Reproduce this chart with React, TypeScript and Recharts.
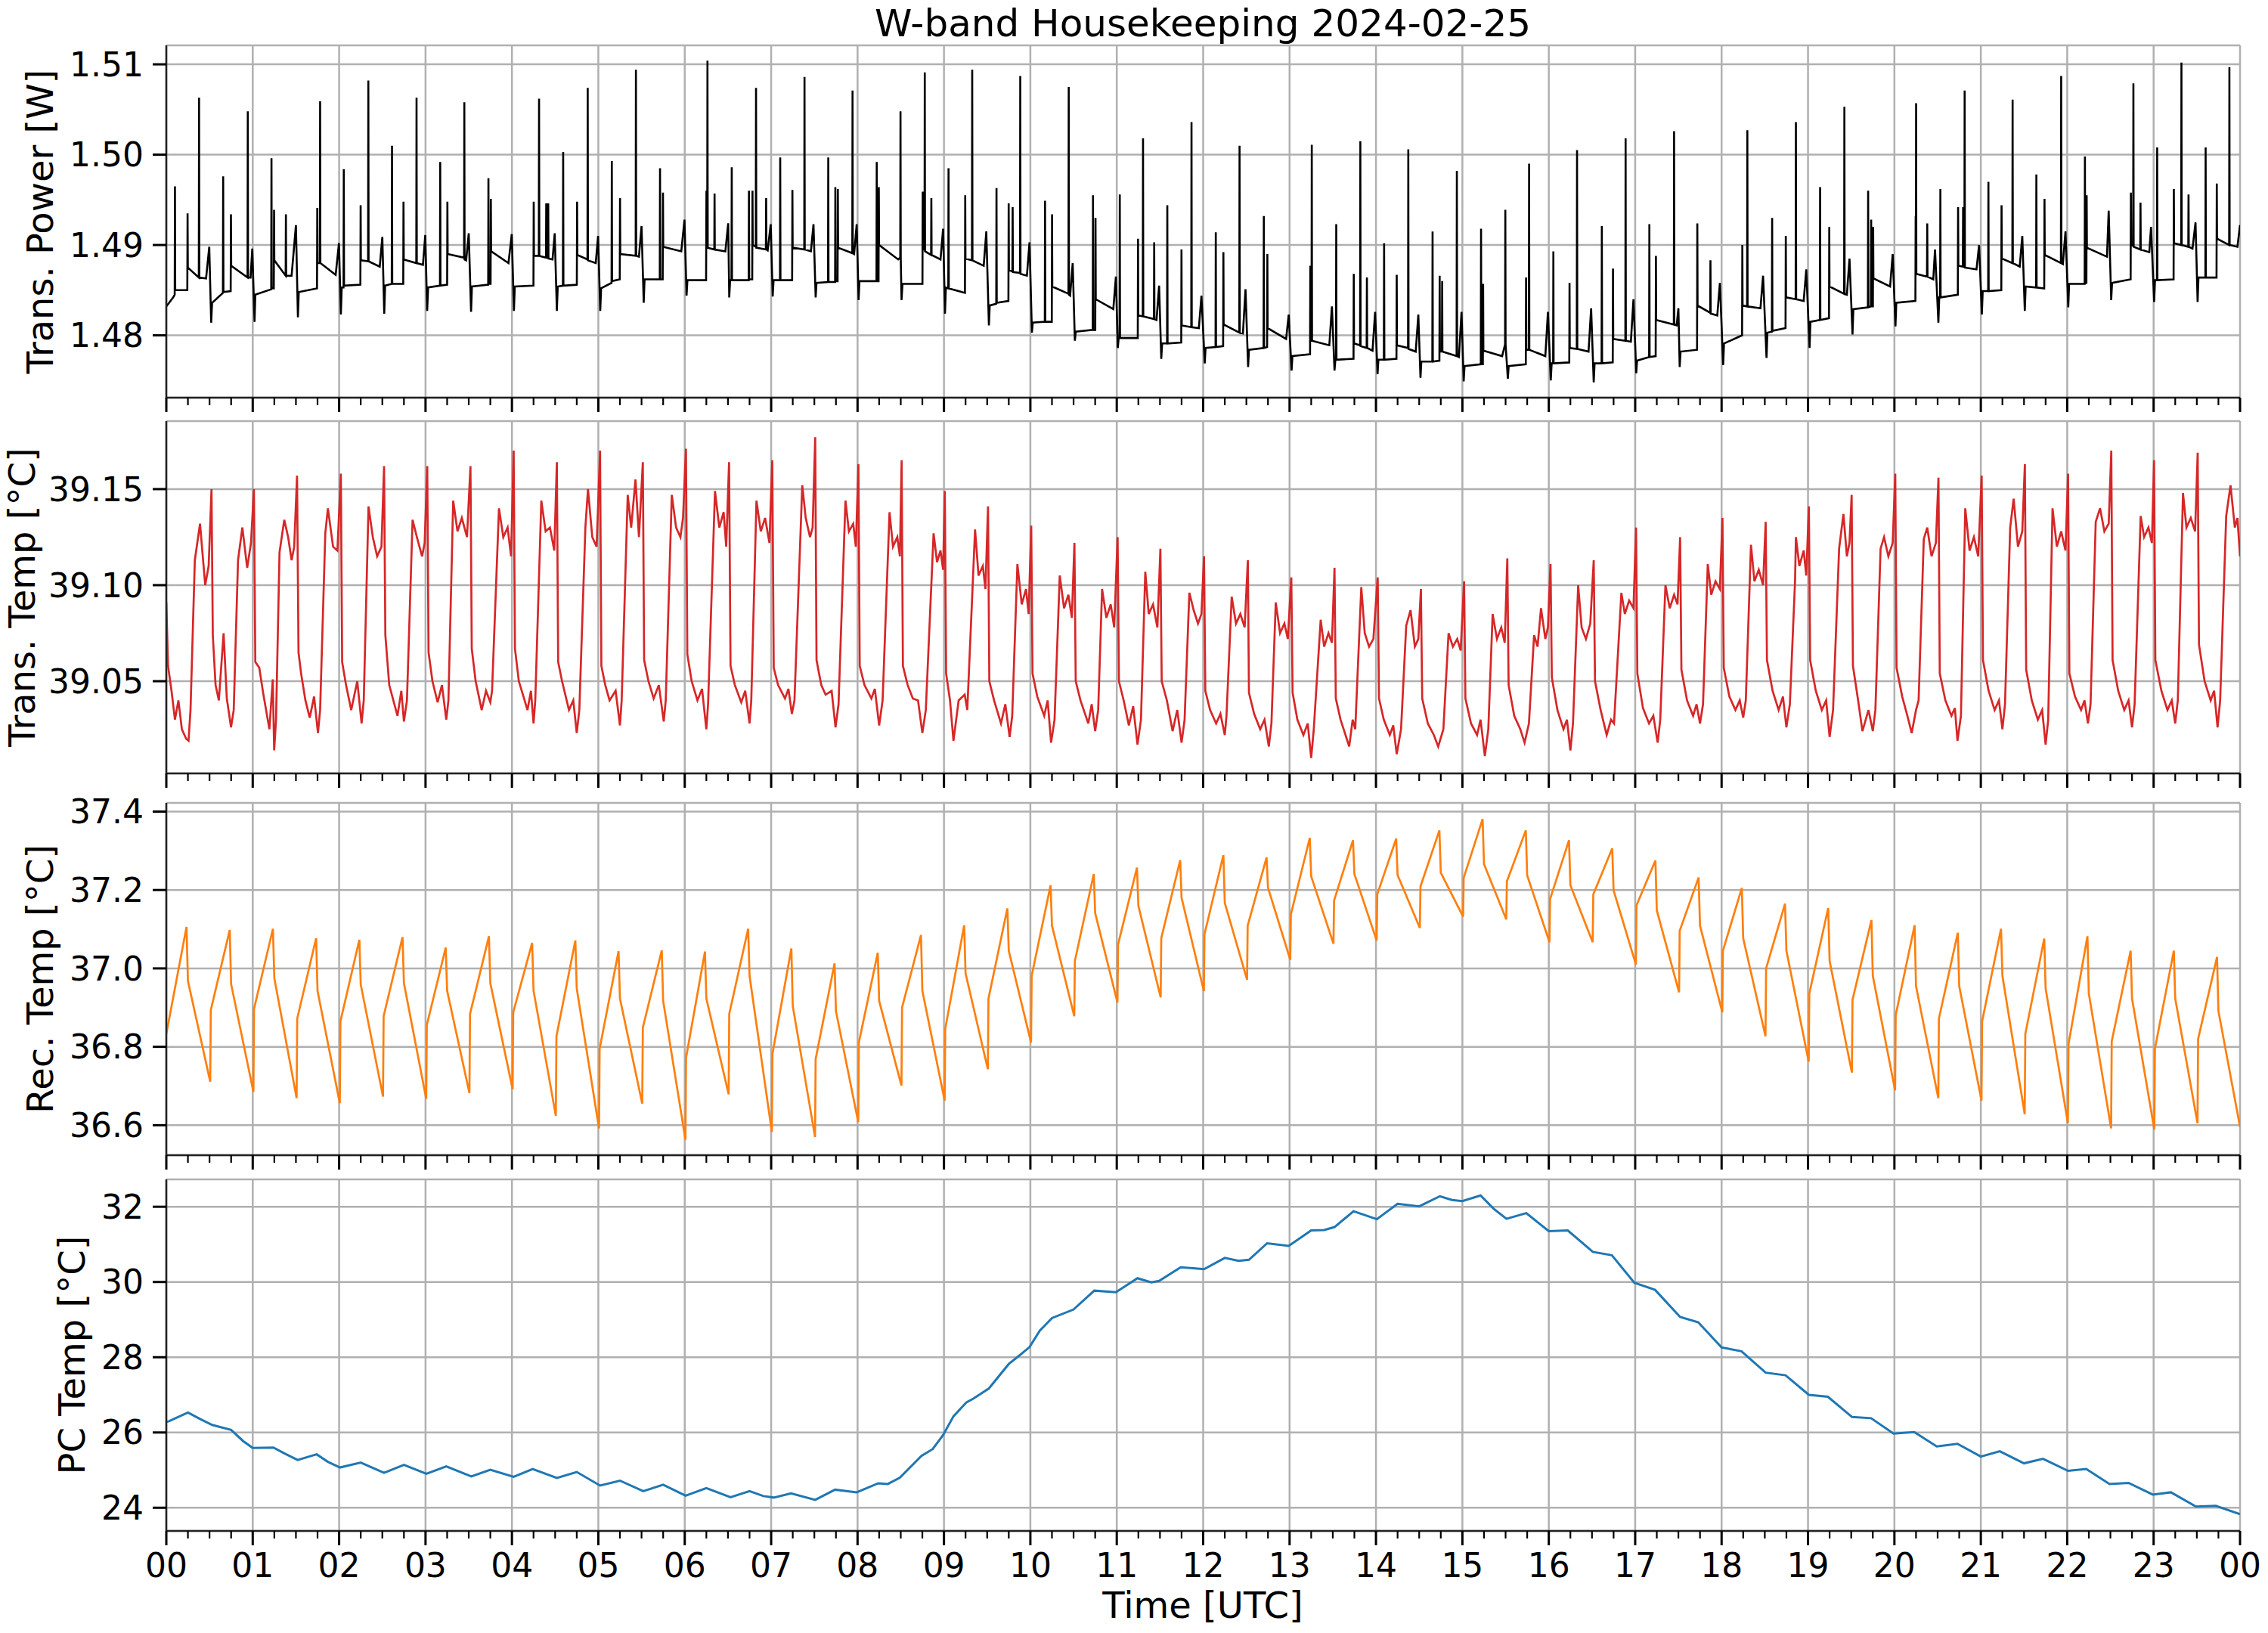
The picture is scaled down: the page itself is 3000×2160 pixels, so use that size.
import React from "react";
import {
  LineChart,
  Line,
  XAxis,
  YAxis,
  CartesianGrid,
} from "recharts";

// ---- data (time in hours UTC, value) ----

const chartTitle = "W-band Housekeeping 2024-02-25";

const hourLabels = [
  "00", "01", "02", "03", "04", "05", "06", "07", "08", "09", "10", "11",
  "12", "13", "14", "15", "16", "17", "18", "19", "20", "21", "22", "23", "00",
];

const powerTicks = [1.48, 1.49, 1.5, 1.51];
const transTempTicks = [39.05, 39.1, 39.15];
const recTempTicks = [36.6, 36.8, 37.0, 37.2, 37.4];
const pcTempTicks = [24, 26, 28, 30, 32];

const transPower: [number, number][] = [
  [0.0, 1.4832], [0.08, 1.4842], [0.097, 1.4845], [0.1, 1.4965], [0.103, 1.485],
  [0.243, 1.485], [0.246, 1.4935], [0.249, 1.4875],
  [0.376, 1.4864], [0.379, 1.5063], [0.382, 1.4864],
  [0.46, 1.4863], [0.497, 1.4898], [0.519, 1.4814], [0.53, 1.4836],
  [0.655, 1.4847], [0.658, 1.4976], [0.661, 1.4848],
  [0.745, 1.4849], [0.748, 1.4934], [0.751, 1.4877],
  [0.94, 1.4864], [0.943, 1.5048], [0.946, 1.4864],
  [0.975, 1.4864], [0.995, 1.4896], [1.021, 1.4815], [1.03, 1.4845],
  [1.214, 1.4851], [1.217, 1.4996], [1.22, 1.4852],
  [1.244, 1.4852], [1.247, 1.4939], [1.25, 1.4883],
  [1.381, 1.4866], [1.384, 1.4934], [1.387, 1.4866],
  [1.45, 1.4866], [1.5, 1.4922], [1.523, 1.482], [1.533, 1.4848],
  [1.744, 1.4852], [1.747, 1.4941], [1.75, 1.488],
  [1.777, 1.488], [1.78, 1.5059], [1.783, 1.488],
  [1.96, 1.4867], [1.998, 1.4902], [2.02, 1.4823], [2.03, 1.4853],
  [2.051, 1.4853], [2.054, 1.4984], [2.057, 1.4855],
  [2.246, 1.4856], [2.249, 1.4944], [2.252, 1.4883],
  [2.335, 1.4882], [2.338, 1.5082], [2.341, 1.4882],
  [2.47, 1.4876], [2.5, 1.4909], [2.522, 1.4824], [2.532, 1.4855],
  [2.609, 1.4857], [2.612, 1.501], [2.615, 1.4857],
  [2.742, 1.4857], [2.745, 1.4948], [2.748, 1.4884],
  [2.893, 1.488], [2.896, 1.5063], [2.899, 1.488],
  [2.97, 1.4878], [2.997, 1.4911], [3.019, 1.4827], [3.03, 1.4853],
  [3.167, 1.4855], [3.17, 1.4992], [3.173, 1.4855],
  [3.25, 1.4856], [3.253, 1.4948], [3.256, 1.489],
  [3.446, 1.4886], [3.449, 1.5058], [3.452, 1.4884],
  [3.47, 1.4883], [3.5, 1.4913], [3.527, 1.4826], [3.537, 1.4854],
  [3.725, 1.4856], [3.728, 1.4974], [3.731, 1.4857],
  [3.753, 1.4857], [3.756, 1.4951], [3.759, 1.4893],
  [3.96, 1.488], [3.998, 1.4912], [4.023, 1.4827], [4.033, 1.4854],
  [4.249, 1.4855], [4.252, 1.4948], [4.255, 1.4888],
  [4.311, 1.4888], [4.314, 1.5062], [4.317, 1.4888],
  [4.394, 1.4886], [4.397, 1.4946], [4.4, 1.4886],
  [4.417, 1.4886], [4.42, 1.4946], [4.423, 1.4885],
  [4.47, 1.4884], [4.495, 1.4913], [4.52, 1.4827], [4.53, 1.4854],
  [4.59, 1.4855], [4.593, 1.5003], [4.596, 1.4855],
  [4.751, 1.4856], [4.754, 1.4948], [4.757, 1.4889],
  [4.874, 1.4884], [4.877, 1.5074], [4.88, 1.4883],
  [4.97, 1.488], [4.997, 1.491], [5.022, 1.4827], [5.032, 1.4852],
  [5.153, 1.4858], [5.156, 1.4993], [5.159, 1.486],
  [5.248, 1.4862], [5.251, 1.4952], [5.254, 1.489],
  [5.432, 1.4888], [5.435, 1.5094], [5.438, 1.4888],
  [5.47, 1.4887], [5.5, 1.4921], [5.525, 1.4836], [5.535, 1.4862],
  [5.711, 1.4862], [5.714, 1.4985], [5.717, 1.4862],
  [5.745, 1.4862], [5.748, 1.4958], [5.751, 1.4898],
  [5.96, 1.4893], [5.997, 1.4928], [6.021, 1.4844], [6.031, 1.4861],
  [6.247, 1.4861], [6.251, 1.496], [6.254, 1.4897], [6.26, 1.4897], [6.263, 1.5104], [6.266, 1.4897],
  [6.342, 1.4895], [6.345, 1.4957], [6.348, 1.4895],
  [6.47, 1.4893], [6.503, 1.4924], [6.515, 1.4842], [6.525, 1.4861],
  [6.541, 1.4861], [6.544, 1.4986], [6.547, 1.4861],
  [6.74, 1.4861], [6.743, 1.496], [6.746, 1.4862], [6.781, 1.4862], [6.784, 1.496], [6.787, 1.49],
  [6.822, 1.4898], [6.825, 1.5074], [6.828, 1.4897],
  [6.939, 1.4895], [6.942, 1.4952], [6.945, 1.4895],
  [6.96, 1.4894], [6.995, 1.4923], [7.018, 1.4843], [7.028, 1.4861],
  [7.102, 1.4861], [7.105, 1.4997], [7.108, 1.4861],
  [7.243, 1.4861], [7.246, 1.4961], [7.249, 1.4897],
  [7.383, 1.4895], [7.386, 1.5086], [7.389, 1.4895],
  [7.46, 1.4893], [7.49, 1.4923], [7.515, 1.4842], [7.525, 1.4858],
  [7.658, 1.4859], [7.661, 1.4997], [7.664, 1.4859],
  [7.74, 1.4859], [7.743, 1.4964], [7.746, 1.486], [7.769, 1.486], [7.772, 1.4962], [7.775, 1.4897],
  [7.939, 1.4891], [7.942, 1.5071], [7.945, 1.4891],
  [7.96, 1.489], [7.99, 1.4923], [8.012, 1.4839], [8.022, 1.486],
  [8.219, 1.486], [8.222, 1.4992], [8.225, 1.486], [8.243, 1.486], [8.246, 1.4964], [8.249, 1.49],
  [8.47, 1.4884], [8.494, 1.4886], [8.497, 1.5048], [8.5, 1.4885], [8.509, 1.4839], [8.52, 1.4857],
  [8.751, 1.4857], [8.754, 1.4959], [8.757, 1.4895], [8.775, 1.4895], [8.778, 1.5091], [8.781, 1.4893],
  [8.851, 1.4889], [8.854, 1.4952], [8.857, 1.4889],
  [8.96, 1.4884], [8.99, 1.4918], [9.012, 1.4824], [9.022, 1.4853],
  [9.05, 1.4852], [9.053, 1.4985], [9.056, 1.4852],
  [9.243, 1.4847], [9.246, 1.4955], [9.249, 1.4885],
  [9.324, 1.4883], [9.327, 1.5094], [9.33, 1.4883],
  [9.46, 1.4877], [9.49, 1.4915], [9.52, 1.4811], [9.53, 1.4833],
  [9.605, 1.4835], [9.608, 1.4963], [9.611, 1.4836],
  [9.746, 1.4838], [9.749, 1.4946], [9.752, 1.4872], [9.792, 1.4871], [9.795, 1.4942], [9.798, 1.487],
  [9.88, 1.4869], [9.883, 1.5087], [9.886, 1.4868],
  [9.96, 1.4866], [9.99, 1.4903], [10.018, 1.4803], [10.028, 1.4814],
  [10.167, 1.4815], [10.17, 1.4949], [10.173, 1.4815],
  [10.248, 1.4815], [10.251, 1.4934], [10.254, 1.4854],
  [10.441, 1.4846], [10.444, 1.5075], [10.447, 1.4845],
  [10.46, 1.4844], [10.49, 1.488], [10.515, 1.4794], [10.525, 1.4804],
  [10.722, 1.4806], [10.725, 1.4955], [10.728, 1.4806], [10.751, 1.4806], [10.754, 1.493], [10.757, 1.484],
  [10.96, 1.4829], [10.99, 1.4865], [11.012, 1.4786], [11.022, 1.4797],
  [11.032, 1.4797], [11.035, 1.4956], [11.038, 1.4797],
  [11.243, 1.4797], [11.246, 1.4907], [11.249, 1.4822],
  [11.301, 1.4821], [11.304, 1.5018], [11.307, 1.4821],
  [11.43, 1.4818], [11.433, 1.4903], [11.436, 1.4818],
  [11.46, 1.4817], [11.49, 1.4855], [11.515, 1.4774], [11.525, 1.4791],
  [11.582, 1.4791], [11.585, 1.4944], [11.588, 1.4791],
  [11.746, 1.4792], [11.749, 1.4895], [11.752, 1.4811],
  [11.862, 1.4809], [11.865, 1.5036], [11.868, 1.4809],
  [11.95, 1.4808], [11.98, 1.4844], [12.018, 1.4769], [12.028, 1.4786],
  [12.143, 1.4787], [12.146, 1.4914], [12.149, 1.4787],
  [12.231, 1.4788], [12.234, 1.4892], [12.237, 1.4812],
  [12.418, 1.4803], [12.421, 1.501], [12.424, 1.4803],
  [12.46, 1.4802], [12.49, 1.4851], [12.52, 1.4765], [12.53, 1.4784],
  [12.699, 1.4786], [12.702, 1.4932], [12.705, 1.4786], [12.74, 1.4787], [12.743, 1.489], [12.746, 1.4808],
  [12.96, 1.4796], [12.99, 1.4823], [13.023, 1.4761], [13.033, 1.4777],
  [13.237, 1.4779], [13.24, 1.4877], [13.243, 1.4794], [13.254, 1.4794], [13.257, 1.5011], [13.26, 1.4794],
  [13.46, 1.4789], [13.49, 1.4832], [13.52, 1.4761], [13.53, 1.4773],
  [13.537, 1.4773], [13.54, 1.4923], [13.543, 1.4773],
  [13.74, 1.4774], [13.743, 1.4868], [13.746, 1.4791],
  [13.816, 1.4789], [13.819, 1.5015], [13.822, 1.4788],
  [13.892, 1.4786], [13.895, 1.4864], [13.898, 1.4786],
  [13.96, 1.4783], [13.99, 1.4826], [14.018, 1.4757], [14.028, 1.4773],
  [14.091, 1.4773], [14.094, 1.4902], [14.097, 1.4773],
  [14.237, 1.4774], [14.24, 1.4867], [14.243, 1.4789],
  [14.371, 1.4786], [14.374, 1.5006], [14.377, 1.4785],
  [14.46, 1.4782], [14.49, 1.4823], [14.515, 1.4753], [14.525, 1.4771],
  [14.652, 1.4771], [14.655, 1.4915], [14.658, 1.4771],
  [14.734, 1.4772], [14.737, 1.4866], [14.74, 1.4782], [14.763, 1.4782], [14.766, 1.486], [14.769, 1.4782],
  [14.933, 1.4777], [14.936, 1.4982], [14.939, 1.4777],
  [14.96, 1.4776], [14.99, 1.4826], [15.015, 1.4749], [15.025, 1.4766],
  [15.213, 1.4768], [15.216, 1.4918], [15.219, 1.4768], [15.237, 1.4768], [15.24, 1.4857], [15.243, 1.4783],
  [15.46, 1.4777], [15.494, 1.479], [15.497, 1.4939], [15.5, 1.479], [15.526, 1.4752], [15.536, 1.4766],
  [15.734, 1.4768], [15.737, 1.4864], [15.74, 1.4784], [15.769, 1.4784], [15.772, 1.499], [15.775, 1.4784],
  [15.96, 1.4777], [15.99, 1.4826], [16.023, 1.475], [16.033, 1.4769],
  [16.05, 1.4769], [16.053, 1.4893], [16.056, 1.4769],
  [16.237, 1.477], [16.24, 1.4858], [16.243, 1.4786],
  [16.324, 1.4785], [16.327, 1.5005], [16.33, 1.4785],
  [16.46, 1.4782], [16.49, 1.483], [16.52, 1.4748], [16.53, 1.4769],
  [16.611, 1.4769], [16.614, 1.4921], [16.617, 1.4769],
  [16.74, 1.477], [16.743, 1.4874], [16.746, 1.4796],
  [16.886, 1.4794], [16.889, 1.5018], [16.892, 1.4794],
  [16.95, 1.4793], [16.98, 1.484], [17.012, 1.4758], [17.022, 1.4772],
  [17.161, 1.4776], [17.164, 1.4923], [17.167, 1.4776],
  [17.237, 1.4777], [17.24, 1.4888], [17.243, 1.4817],
  [17.447, 1.4812], [17.45, 1.5026], [17.453, 1.4812],
  [17.48, 1.4811], [17.5, 1.483], [17.515, 1.4765], [17.525, 1.4782],
  [17.716, 1.4784], [17.719, 1.4924], [17.722, 1.4833],
  [17.868, 1.4825], [17.871, 1.4883], [17.874, 1.4824],
  [17.95, 1.4822], [17.98, 1.4858], [18.018, 1.4767], [18.028, 1.4791],
  [18.237, 1.48], [18.24, 1.49], [18.243, 1.4833], [18.295, 1.4832], [18.298, 1.5027], [18.301, 1.4832],
  [18.45, 1.483], [18.48, 1.4866], [18.52, 1.4775], [18.53, 1.4803],
  [18.582, 1.4804], [18.585, 1.493], [18.588, 1.4805],
  [18.74, 1.4808], [18.743, 1.491], [18.746, 1.4842],
  [18.857, 1.484], [18.86, 1.5036], [18.863, 1.484],
  [18.95, 1.4838], [18.98, 1.4873], [19.018, 1.4786], [19.028, 1.4815],
  [19.137, 1.4817], [19.14, 1.4964], [19.143, 1.4817],
  [19.243, 1.4819], [19.246, 1.492], [19.249, 1.4854],
  [19.418, 1.4846], [19.421, 1.5053], [19.424, 1.4846],
  [19.45, 1.4845], [19.48, 1.4885], [19.515, 1.4801], [19.525, 1.4829],
  [19.693, 1.4831], [19.696, 1.496], [19.699, 1.4831], [19.728, 1.4832], [19.731, 1.4928], [19.734, 1.4832],
  [19.751, 1.4832], [19.754, 1.492], [19.757, 1.4863],
  [19.95, 1.4854], [19.98, 1.489], [20.012, 1.481], [20.022, 1.4836],
  [20.243, 1.4838], [20.246, 1.4932], [20.249, 1.4868], [20.251, 1.5057], [20.254, 1.4868],
  [20.377, 1.4865], [20.38, 1.4924], [20.383, 1.4865],
  [20.45, 1.4862], [20.47, 1.4895], [20.509, 1.4814], [20.519, 1.4842],
  [20.529, 1.4842], [20.532, 1.4962], [20.535, 1.4842],
  [20.734, 1.4845], [20.737, 1.4942], [20.74, 1.4877], [20.792, 1.4876], [20.795, 1.4942], [20.798, 1.4876],
  [20.81, 1.4876], [20.813, 1.5071], [20.816, 1.4875],
  [20.95, 1.4873], [20.98, 1.49], [21.012, 1.4823], [21.022, 1.4849],
  [21.085, 1.4849], [21.088, 1.497], [21.091, 1.4849],
  [21.237, 1.485], [21.24, 1.4944], [21.243, 1.4885],
  [21.365, 1.488], [21.368, 1.5061], [21.371, 1.488],
  [21.45, 1.4876], [21.48, 1.491], [21.509, 1.4827], [21.519, 1.4854],
  [21.64, 1.4853], [21.643, 1.4978], [21.646, 1.4853],
  [21.734, 1.4852], [21.737, 1.4951], [21.74, 1.4889],
  [21.927, 1.488], [21.93, 1.5087], [21.933, 1.488],
  [21.95, 1.4879], [21.98, 1.4915], [22.012, 1.4831], [22.022, 1.4857],
  [22.202, 1.4857], [22.205, 1.4998], [22.208, 1.4858], [22.222, 1.4858], [22.225, 1.4955], [22.228, 1.4897],
  [22.46, 1.4887], [22.48, 1.4938], [22.509, 1.4839], [22.519, 1.4858],
  [22.734, 1.4862], [22.737, 1.4958], [22.74, 1.49], [22.763, 1.4899], [22.766, 1.5079], [22.769, 1.4898],
  [22.845, 1.4895], [22.848, 1.4947], [22.851, 1.4895],
  [22.95, 1.4892], [22.97, 1.492], [23.006, 1.4837], [23.016, 1.4861],
  [23.038, 1.4861], [23.041, 1.5008], [23.044, 1.4861],
  [23.231, 1.4862], [23.234, 1.4962], [23.237, 1.4902],
  [23.319, 1.49], [23.322, 1.5102], [23.325, 1.49],
  [23.401, 1.4898], [23.404, 1.4956], [23.407, 1.4898],
  [23.45, 1.4896], [23.485, 1.4925], [23.509, 1.4837], [23.519, 1.4864],
  [23.599, 1.4864], [23.602, 1.5008], [23.605, 1.4864],
  [23.728, 1.4864], [23.731, 1.4968], [23.734, 1.4907],
  [23.874, 1.49], [23.877, 1.5097], [23.88, 1.49],
  [23.97, 1.4898], [24.0, 1.4922],
];

const transTemp: [number, number][] = [
  [0.0, 39.091], [0.02, 39.058], [0.06, 39.045], [0.1, 39.03], [0.14, 39.04], [0.18, 39.025], [0.23, 39.02], [0.257, 39.019], [0.28, 39.035], [0.33, 39.113], [0.39, 39.132], [0.45, 39.1], [0.49, 39.11], [0.523, 39.15],
  [0.538, 39.074], [0.57, 39.048], [0.608, 39.04], [0.663, 39.075], [0.7, 39.041], [0.749, 39.026], [0.78, 39.035], [0.83, 39.113], [0.88, 39.13], [0.936, 39.109], [0.98, 39.122], [1.014, 39.15],
  [1.03, 39.06], [1.076, 39.057], [1.12, 39.044], [1.193, 39.025], [1.232, 39.051], [1.248, 39.014], [1.27, 39.03], [1.31, 39.117], [1.365, 39.134], [1.41, 39.125], [1.45, 39.113], [1.48, 39.12], [1.513, 39.157],
  [1.53, 39.065], [1.56, 39.054], [1.61, 39.04], [1.66, 39.031], [1.71, 39.042], [1.755, 39.023], [1.78, 39.035], [1.84, 39.127], [1.87, 39.14], [1.93, 39.12], [1.98, 39.118], [2.02, 39.158],
  [2.035, 39.06], [2.08, 39.048], [2.14, 39.035], [2.21, 39.05], [2.26, 39.028], [2.285, 39.04], [2.34, 39.141], [2.39, 39.125], [2.44, 39.115], [2.49, 39.12], [2.52, 39.162],
  [2.535, 39.074], [2.58, 39.048], [2.675, 39.032], [2.72, 39.045], [2.75, 39.029], [2.785, 39.04], [2.85, 39.134], [2.9, 39.125], [2.96, 39.115], [2.99, 39.122], [3.02, 39.162],
  [3.035, 39.065], [3.08, 39.05], [3.14, 39.039], [3.19, 39.048], [3.24, 39.03], [3.265, 39.04], [3.32, 39.144], [3.37, 39.128], [3.42, 39.135], [3.48, 39.125], [3.52, 39.162],
  [3.535, 39.067], [3.58, 39.05], [3.65, 39.035], [3.7, 39.045], [3.75, 39.039], [3.77, 39.045], [3.85, 39.14], [3.9, 39.125], [3.95, 39.13], [3.99, 39.115], [4.02, 39.17],
  [4.035, 39.067], [4.08, 39.05], [4.18, 39.035], [4.22, 39.045], [4.25, 39.028], [4.27, 39.04], [4.34, 39.144], [4.39, 39.128], [4.44, 39.13], [4.49, 39.118], [4.52, 39.164],
  [4.535, 39.06], [4.58, 39.05], [4.66, 39.035], [4.71, 39.04], [4.75, 39.023], [4.78, 39.035], [4.85, 39.13], [4.88, 39.15], [4.93, 39.125], [4.98, 39.12], [5.02, 39.17],
  [5.035, 39.058], [5.08, 39.048], [5.13, 39.04], [5.2, 39.045], [5.25, 39.027], [5.27, 39.04], [5.34, 39.147], [5.38, 39.13], [5.43, 39.155], [5.47, 39.125], [5.515, 39.164],
  [5.53, 39.061], [5.58, 39.05], [5.64, 39.041], [5.7, 39.048], [5.757, 39.029], [5.78, 39.04], [5.85, 39.147], [5.9, 39.13], [5.95, 39.125], [5.98, 39.135], [6.014, 39.171],
  [6.03, 39.064], [6.08, 39.05], [6.147, 39.04], [6.2, 39.046], [6.25, 39.025], [6.27, 39.038], [6.35, 39.149], [6.4, 39.13], [6.45, 39.138], [6.48, 39.12], [6.513, 39.164],
  [6.53, 39.058], [6.58, 39.048], [6.654, 39.039], [6.7, 39.045], [6.75, 39.028], [6.77, 39.04], [6.83, 39.144], [6.88, 39.128], [6.93, 39.135], [6.98, 39.122], [7.013, 39.165],
  [7.03, 39.057], [7.08, 39.048], [7.16, 39.041], [7.2, 39.046], [7.24, 39.033], [7.27, 39.04], [7.36, 39.152], [7.4, 39.135], [7.45, 39.125], [7.48, 39.13], [7.51, 39.177],
  [7.525, 39.061], [7.58, 39.048], [7.63, 39.043], [7.7, 39.045], [7.745, 39.026], [7.78, 39.038], [7.86, 39.144], [7.9, 39.128], [7.95, 39.132], [7.98, 39.12], [8.01, 39.163],
  [8.025, 39.058], [8.08, 39.048], [8.16, 39.041], [8.2, 39.046], [8.25, 39.027], [8.29, 39.04], [8.37, 39.138], [8.41, 39.12], [8.46, 39.125], [8.49, 39.115], [8.51, 39.165],
  [8.525, 39.058], [8.58, 39.048], [8.64, 39.041], [8.7, 39.04], [8.75, 39.023], [8.79, 39.035], [8.88, 39.127], [8.92, 39.112], [8.96, 39.118], [8.99, 39.108], [9.01, 39.149],
  [9.025, 39.054], [9.07, 39.04], [9.11, 39.019], [9.17, 39.04], [9.24, 39.043], [9.27, 39.035], [9.36, 39.129], [9.4, 39.105], [9.45, 39.11], [9.48, 39.098], [9.51, 39.141],
  [9.525, 39.05], [9.58, 39.04], [9.66, 39.028], [9.71, 39.038], [9.76, 39.021], [9.79, 39.032], [9.85, 39.111], [9.9, 39.09], [9.95, 39.098], [9.98, 39.085], [10.01, 39.131],
  [10.025, 39.054], [10.08, 39.042], [10.16, 39.032], [10.2, 39.04], [10.24, 39.018], [10.28, 39.03], [10.34, 39.105], [10.39, 39.088], [10.44, 39.095], [10.48, 39.083], [10.51, 39.122],
  [10.525, 39.05], [10.58, 39.04], [10.67, 39.028], [10.71, 39.038], [10.75, 39.024], [10.785, 39.035], [10.83, 39.098], [10.88, 39.083], [10.93, 39.09], [10.97, 39.078], [11.01, 39.125],
  [11.025, 39.05], [11.08, 39.04], [11.14, 39.027], [11.19, 39.037], [11.24, 39.017], [11.28, 39.03], [11.33, 39.107], [11.37, 39.085], [11.42, 39.09], [11.47, 39.078], [11.505, 39.119],
  [11.52, 39.05], [11.58, 39.04], [11.646, 39.024], [11.7, 39.035], [11.75, 39.018], [11.785, 39.03], [11.84, 39.096], [11.89, 39.087], [11.94, 39.08], [11.98, 39.085], [12.01, 39.115],
  [12.025, 39.045], [12.08, 39.035], [12.15, 39.028], [12.2, 39.033], [12.25, 39.022], [12.27, 39.032], [12.33, 39.094], [12.38, 39.08], [12.43, 39.085], [12.48, 39.078], [12.517, 39.113],
  [12.53, 39.044], [12.59, 39.033], [12.66, 39.025], [12.71, 39.03], [12.76, 39.016], [12.79, 39.028], [12.84, 39.091], [12.89, 39.075], [12.94, 39.08], [12.98, 39.072], [13.02, 39.104],
  [13.035, 39.044], [13.09, 39.03], [13.16, 39.022], [13.21, 39.028], [13.25, 39.01], [13.28, 39.025], [13.36, 39.082], [13.4, 39.068], [13.45, 39.075], [13.49, 39.07], [13.52, 39.109],
  [13.535, 39.041], [13.59, 39.03], [13.69, 39.016], [13.73, 39.03], [13.76, 39.025], [13.83, 39.099], [13.87, 39.075], [13.92, 39.068], [13.97, 39.072], [14.02, 39.104],
  [14.035, 39.041], [14.09, 39.03], [14.16, 39.022], [14.2, 39.027], [14.24, 39.012], [14.29, 39.025], [14.35, 39.079], [14.4, 39.087], [14.45, 39.068], [14.49, 39.072], [14.52, 39.098],
  [14.535, 39.041], [14.6, 39.028], [14.67, 39.022], [14.72, 39.016], [14.78, 39.025], [14.84, 39.075], [14.89, 39.068], [14.94, 39.072], [14.98, 39.066], [15.02, 39.102],
  [15.035, 39.041], [15.1, 39.028], [15.17, 39.022], [15.21, 39.03], [15.26, 39.011], [15.3, 39.025], [15.35, 39.085], [15.4, 39.072], [15.45, 39.078], [15.49, 39.07], [15.52, 39.114],
  [15.535, 39.048], [15.6, 39.032], [15.67, 39.025], [15.72, 39.018], [15.77, 39.028], [15.83, 39.074], [15.87, 39.068], [15.91, 39.088], [15.96, 39.072], [15.99, 39.078], [16.02, 39.111],
  [16.035, 39.052], [16.1, 39.035], [16.17, 39.025], [16.21, 39.03], [16.25, 39.014], [16.28, 39.028], [16.34, 39.1], [16.38, 39.078], [16.43, 39.072], [16.48, 39.08], [16.52, 39.113],
  [16.535, 39.05], [16.6, 39.035], [16.67, 39.022], [16.72, 39.03], [16.755, 39.028], [16.84, 39.096], [16.88, 39.085], [16.93, 39.092], [16.98, 39.088], [17.01, 39.13],
  [17.025, 39.054], [17.09, 39.036], [17.16, 39.028], [17.21, 39.032], [17.26, 39.018], [17.29, 39.03], [17.35, 39.1], [17.4, 39.088], [17.45, 39.095], [17.49, 39.09], [17.52, 39.125],
  [17.535, 39.056], [17.6, 39.04], [17.67, 39.032], [17.71, 39.038], [17.75, 39.028], [17.785, 39.038], [17.84, 39.111], [17.88, 39.095], [17.93, 39.102], [17.98, 39.098], [18.01, 39.135],
  [18.025, 39.057], [18.09, 39.042], [18.16, 39.035], [18.21, 39.04], [18.25, 39.031], [18.28, 39.04], [18.34, 39.121], [18.38, 39.102], [18.43, 39.108], [18.48, 39.1], [18.51, 39.133],
  [18.525, 39.061], [18.59, 39.045], [18.66, 39.035], [18.71, 39.042], [18.75, 39.026], [18.79, 39.038], [18.85, 39.102], [18.86, 39.125], [18.9, 39.11], [18.95, 39.118], [18.98, 39.105], [19.01, 39.141],
  [19.025, 39.061], [19.09, 39.045], [19.16, 39.035], [19.21, 39.04], [19.25, 39.021], [19.29, 39.035], [19.36, 39.119], [19.41, 39.137], [19.45, 39.115], [19.48, 39.122], [19.505, 39.147],
  [19.52, 39.058], [19.58, 39.04], [19.63, 39.024], [19.7, 39.035], [19.75, 39.024], [19.78, 39.035], [19.84, 39.119], [19.88, 39.125], [19.93, 39.115], [19.98, 39.122], [20.01, 39.158],
  [20.025, 39.057], [20.09, 39.042], [20.15, 39.032], [20.2, 39.023], [20.25, 39.035], [20.28, 39.04], [20.34, 39.124], [20.38, 39.13], [20.43, 39.115], [20.48, 39.122], [20.51, 39.156],
  [20.525, 39.054], [20.59, 39.04], [20.66, 39.032], [20.7, 39.036], [20.73, 39.019], [20.77, 39.032], [20.82, 39.14], [20.87, 39.118], [20.92, 39.125], [20.97, 39.115], [21.01, 39.157],
  [21.025, 39.061], [21.09, 39.045], [21.16, 39.035], [21.21, 39.04], [21.25, 39.025], [21.28, 39.038], [21.34, 39.13], [21.38, 39.145], [21.43, 39.12], [21.48, 39.128], [21.51, 39.163],
  [21.525, 39.056], [21.59, 39.04], [21.66, 39.03], [21.71, 39.035], [21.75, 39.017], [21.78, 39.03], [21.83, 39.14], [21.88, 39.12], [21.93, 39.128], [21.98, 39.118], [22.01, 39.158],
  [22.025, 39.054], [22.09, 39.042], [22.16, 39.035], [22.2, 39.04], [22.24, 39.028], [22.27, 39.038], [22.33, 39.133], [22.38, 39.14], [22.43, 39.128], [22.48, 39.132], [22.51, 39.17],
  [22.525, 39.061], [22.59, 39.045], [22.66, 39.035], [22.71, 39.04], [22.75, 39.026], [22.78, 39.038], [22.85, 39.136], [22.89, 39.125], [22.94, 39.13], [22.98, 39.122], [23.005, 39.165],
  [23.02, 39.061], [23.09, 39.045], [23.16, 39.035], [23.21, 39.04], [23.25, 39.028], [23.28, 39.04], [23.34, 39.148], [23.38, 39.13], [23.43, 39.135], [23.48, 39.128], [23.51, 39.169],
  [23.525, 39.069], [23.59, 39.05], [23.66, 39.04], [23.7, 39.045], [23.74, 39.026], [23.77, 39.04], [23.84, 39.136], [23.89, 39.152], [23.94, 39.13], [23.97, 39.135], [24.0, 39.115],
];

const recTemp: [number, number][] = [
  [0.0, 36.833], [0.234, 37.106], [0.25, 36.968], [0.508, 36.711],
  [0.515, 36.894], [0.734, 37.098], [0.75, 36.96], [1.008, 36.685],
  [1.015, 36.897], [1.234, 37.101], [1.25, 36.975], [1.508, 36.669],
  [1.515, 36.872], [1.734, 37.077], [1.75, 36.943], [2.008, 36.656],
  [2.015, 36.865], [2.234, 37.073], [2.25, 36.959], [2.508, 36.673],
  [2.515, 36.878], [2.734, 37.08], [2.75, 36.962], [3.008, 36.667],
  [3.015, 36.856], [3.234, 37.053], [3.25, 36.943], [3.508, 36.682],
  [3.515, 36.884], [3.734, 37.082], [3.75, 36.962], [4.008, 36.692],
  [4.015, 36.888], [4.234, 37.065], [4.25, 36.943], [4.508, 36.624],
  [4.515, 36.827], [4.734, 37.071], [4.75, 36.949], [5.008, 36.592],
  [5.015, 36.795], [5.234, 37.044], [5.25, 36.923], [5.508, 36.655],
  [5.515, 36.849], [5.734, 37.046], [5.75, 36.917], [6.008, 36.563],
  [6.015, 36.772], [6.234, 37.043], [6.25, 36.923], [6.508, 36.679],
  [6.515, 36.884], [6.734, 37.101], [6.75, 36.981], [7.008, 36.583],
  [7.015, 36.782], [7.234, 37.051], [7.25, 36.904], [7.508, 36.57],
  [7.515, 36.769], [7.734, 37.013], [7.75, 36.891], [8.008, 36.608],
  [8.015, 36.811], [8.234, 37.04], [8.25, 36.917], [8.508, 36.701],
  [8.515, 36.9], [8.734, 37.085], [8.75, 36.943], [9.008, 36.663],
  [9.015, 36.846], [9.234, 37.11], [9.25, 36.987], [9.508, 36.743],
  [9.515, 36.923], [9.734, 37.153], [9.75, 37.045], [10.008, 36.811],
  [10.015, 36.981], [10.234, 37.212], [10.25, 37.109], [10.508, 36.878],
  [10.515, 37.019], [10.734, 37.241], [10.75, 37.141], [11.008, 36.913],
  [11.015, 37.061], [11.234, 37.257], [11.25, 37.16], [11.508, 36.926],
  [11.515, 37.077], [11.734, 37.276], [11.75, 37.18], [12.008, 36.942],
  [12.015, 37.087], [12.234, 37.289], [12.25, 37.167], [12.508, 36.971],
  [12.515, 37.109], [12.734, 37.283], [12.75, 37.206], [13.008, 37.022],
  [13.015, 37.138], [13.234, 37.333], [13.25, 37.235], [13.508, 37.063],
  [13.515, 37.173], [13.734, 37.327], [13.75, 37.241], [14.008, 37.071],
  [14.015, 37.189], [14.234, 37.331], [14.25, 37.238], [14.508, 37.103],
  [14.515, 37.209], [14.734, 37.352], [14.75, 37.244], [15.008, 37.132],
  [15.015, 37.231], [15.234, 37.381], [15.25, 37.266], [15.508, 37.125],
  [15.515, 37.222], [15.734, 37.352], [15.75, 37.237], [16.008, 37.067],
  [16.015, 37.177], [16.234, 37.327], [16.25, 37.212], [16.508, 37.067],
  [16.515, 37.189], [16.734, 37.306], [16.75, 37.199], [17.008, 37.01],
  [17.015, 37.161], [17.234, 37.275], [17.25, 37.148], [17.508, 36.939],
  [17.515, 37.096], [17.734, 37.232], [17.75, 37.109], [18.008, 36.888],
  [18.015, 37.045], [18.234, 37.205], [18.25, 37.077], [18.508, 36.827],
  [18.515, 37.0], [18.734, 37.165], [18.75, 37.045], [19.008, 36.762],
  [19.015, 36.936], [19.234, 37.154], [19.25, 37.019], [19.508, 36.734],
  [19.515, 36.92], [19.734, 37.123], [19.75, 36.981], [20.008, 36.689],
  [20.015, 36.881], [20.234, 37.11], [20.25, 36.955], [20.508, 36.669],
  [20.515, 36.872], [20.734, 37.091], [20.75, 36.955], [21.008, 36.663],
  [21.015, 36.865], [21.234, 37.101], [21.25, 36.981], [21.508, 36.628],
  [21.515, 36.833], [21.734, 37.076], [21.75, 36.949], [22.008, 36.605],
  [22.015, 36.807], [22.234, 37.082], [22.25, 36.936], [22.508, 36.592],
  [22.515, 36.814], [22.734, 37.045], [22.75, 36.923], [23.008, 36.589],
  [23.015, 36.795], [23.234, 37.045], [23.25, 36.923], [23.508, 36.605],
  [23.515, 36.82], [23.734, 37.029], [23.75, 36.891], [24.0, 36.596],
];

const pcTemp: [number, number][] = [
  [0.0, 26.28], [0.03, 26.3], [0.25, 26.53], [0.39, 26.36], [0.53, 26.2], [0.75, 26.07],
  [0.89, 25.77], [1.0, 25.59], [1.24, 25.6], [1.37, 25.44], [1.52, 25.27], [1.74, 25.42],
  [1.87, 25.22], [2.01, 25.07], [2.25, 25.2], [2.52, 24.93], [2.75, 25.14], [3.01, 24.9],
  [3.24, 25.1], [3.53, 24.83], [3.75, 25.01], [4.02, 24.82], [4.24, 25.03], [4.52, 24.79],
  [4.75, 24.95], [5.02, 24.59], [5.25, 24.72], [5.52, 24.44], [5.75, 24.61], [6.01, 24.32],
  [6.25, 24.52], [6.53, 24.28], [6.75, 24.44], [6.91, 24.31], [7.03, 24.27], [7.23, 24.38],
  [7.51, 24.21], [7.74, 24.48], [7.99, 24.41], [8.24, 24.65], [8.35, 24.63], [8.49, 24.8],
  [8.74, 25.38], [8.87, 25.56], [8.99, 25.93], [9.11, 26.43], [9.26, 26.8], [9.34, 26.9],
  [9.52, 27.17], [9.75, 27.82], [9.87, 28.04], [9.99, 28.27], [10.11, 28.71], [10.25, 29.04],
  [10.5, 29.27], [10.74, 29.77], [10.99, 29.73], [11.24, 30.1], [11.4, 29.99], [11.49, 30.03],
  [11.74, 30.39], [11.91, 30.36], [12.01, 30.34], [12.25, 30.64], [12.41, 30.56], [12.53, 30.59],
  [12.74, 31.03], [12.99, 30.96], [13.25, 31.37], [13.4, 31.38], [13.52, 31.46], [13.74, 31.88],
  [14.01, 31.67], [14.25, 32.08], [14.5, 32.01], [14.74, 32.28], [14.88, 32.18], [15.0, 32.15],
  [15.21, 32.3], [15.36, 31.95], [15.51, 31.68], [15.74, 31.83], [16.0, 31.35], [16.22, 31.37],
  [16.51, 30.8], [16.73, 30.71], [16.99, 29.98], [17.23, 29.79], [17.52, 29.07], [17.73, 28.93],
  [18.0, 28.26], [18.23, 28.16], [18.51, 27.59], [18.74, 27.52], [19.01, 27.0], [19.23, 26.95],
  [19.51, 26.41], [19.73, 26.38], [19.99, 25.97], [20.23, 26.01], [20.49, 25.63], [20.73, 25.7],
  [21.0, 25.36], [21.22, 25.5], [21.5, 25.18], [21.72, 25.3], [22.01, 24.98], [22.22, 25.03],
  [22.49, 24.63], [22.71, 24.66], [22.99, 24.35], [23.2, 24.41], [23.49, 24.03], [23.72, 24.05],
  [24.0, 23.83],
];

// ---- styling ----

const FONT = "DejaVu Sans";
const INK = "#000000";
const SPINE = { stroke: "#222222", strokeWidth: 2.5 };
const GRID = "#b0b0b0";

const hourTicks = hourLabels.map((_, i) => i);
const quarterTicks = hourTicks.flatMap((h) =>
  h < 24 ? [h, h + 0.25, h + 0.5, h + 0.75] : [h]
);

const toRows = (pairs: [number, number][]) => pairs.map(([t, v]) => ({ t, v }));

const XTick = (props: any) => {
  const { x, y, payload, showLabel } = props;
  const v = payload.value;
  const major = Math.abs(v - Math.round(v)) < 1e-6;
  return (
    <g>
      <line
        x1={x}
        x2={x}
        y1={y}
        y2={y + (major ? 19 : 10)}
        stroke={INK}
        strokeWidth={major ? 3 : 2.2}
      />
      {major && showLabel ? (
        <text
          x={x}
          y={y + 61}
          textAnchor="middle"
          fontSize={44}
          fontFamily={FONT}
          fill={INK}
        >
          {hourLabels[Math.round(v)]}
        </text>
      ) : null}
    </g>
  );
};

const panels = [
  {
    key: "power",
    rows: toRows(transPower),
    color: "#000000",
    width: 2.6,
    label: "Trans. Power [W]",
    labelX: 70,
    ticks: powerTicks,
    fmt: (v: number) => v.toFixed(2),
    domain: [1.4731, 1.5121],
    top: 0,
    height: 546,
    mTop: 60,
    xHeight: 20,
  },
  {
    key: "ttemp",
    rows: toRows(transTemp),
    color: "#d62728",
    width: 2.7,
    label: "Trans. Temp [°C]",
    labelX: 46,
    ticks: transTempTicks,
    fmt: (v: number) => v.toFixed(2),
    domain: [39.002, 39.1854],
    top: 546,
    height: 497,
    mTop: 11,
    xHeight: 20,
  },
  {
    key: "rtemp",
    rows: toRows(recTemp),
    color: "#ff7f0e",
    width: 2.7,
    label: "Rec. Temp [°C]",
    labelX: 70,
    ticks: recTempTicks,
    fmt: (v: number) => v.toFixed(1),
    domain: [36.5235, 37.4222],
    top: 1043,
    height: 505,
    mTop: 19,
    xHeight: 20,
  },
  {
    key: "pctemp",
    rows: toRows(pcTemp),
    color: "#1f77b4",
    width: 3,
    label: "PC Temp [°C]",
    labelX: 112,
    ticks: pcTempTicks,
    fmt: (v: number) => String(v),
    domain: [23.383, 32.727],
    top: 1548,
    height: 612,
    mTop: 12,
    xHeight: 135,
  },
];

const App: React.FC = () => {
  return (
    <div
      style={{
        position: "absolute",
        left: 0,
        top: 0,
        width: 3000,
        height: 2160,
        background: "#ffffff",
      }}
    >
      {panels.map((p, idx) => {
        const isLast = idx === panels.length - 1;
        const plotH = p.height - p.mTop - p.xHeight;
        const cy = p.mTop + plotH / 2;
        return (
          <div
            key={p.key}
            style={{ position: "absolute", left: 0, top: p.top }}
          >
            <LineChart
              width={3000}
              height={p.height}
              data={p.rows}
              margin={{ top: p.mTop, right: 37, bottom: 0, left: 0 }}
            >
              <CartesianGrid
                stroke={GRID}
                strokeWidth={2.5}
                verticalCoordinatesGenerator={({ xAxis, offset }: any) =>
                  hourTicks.map((h) =>
                    xAxis && typeof xAxis.scale === "function"
                      ? xAxis.scale(h)
                      : offset.left + (h / 24) * offset.width
                  )
                }
              />
              <XAxis
                dataKey="t"
                type="number"
                domain={[0, 24]}
                allowDataOverflow
                ticks={quarterTicks}
                interval={0}
                tickLine={false}
                tickSize={0}
                tickMargin={0}
                height={p.xHeight}
                axisLine={SPINE}
                tick={(tp: any) => <XTick {...tp} showLabel={isLast} />}
                label={
                  isLast
                    ? {
                        value: "Time [UTC]",
                        content: () => (
                          <text
                            x={1591}
                            y={592}
                            textAnchor="middle"
                            fontSize={48}
                            fontFamily={FONT}
                            fill={INK}
                          >
                            Time [UTC]
                          </text>
                        ),
                      }
                    : undefined
                }
              />
              <XAxis
                xAxisId="top"
                orientation="top"
                type="number"
                domain={[0, 24]}
                height={0}
                tick={false}
                tickLine={false}
                axisLine={SPINE}
              />
              <YAxis
                type="number"
                domain={p.domain}
                allowDataOverflow
                ticks={p.ticks}
                interval={0}
                tickFormatter={p.fmt}
                width={220}
                tickSize={18}
                tickMargin={12}
                tickLine={{ stroke: INK, strokeWidth: 3 }}
                axisLine={SPINE}
                tick={{ fill: INK, fontSize: 44, fontFamily: FONT }}
                label={{
                  value: p.label,
                  content: () => (
                    <g>
                      <text
                        x={p.labelX}
                        y={cy}
                        transform={`rotate(-90 ${p.labelX} ${cy})`}
                        textAnchor="middle"
                        fontSize={48}
                        fontFamily={FONT}
                        fill={INK}
                      >
                        {p.label}
                      </text>
                      {idx === 0 ? (
                        <text
                          x={1591}
                          y={48}
                          textAnchor="middle"
                          fontSize={50}
                          fontFamily={FONT}
                          fill={INK}
                        >
                          {chartTitle}
                        </text>
                      ) : null}
                    </g>
                  ),
                }}
              />
              <YAxis
                yAxisId="right"
                orientation="right"
                type="number"
                domain={[0, 1]}
                width={0}
                tick={false}
                tickLine={false}
                axisLine={SPINE}
              />
              <Line
                type="linear"
                dataKey="v"
                stroke={p.color}
                strokeWidth={p.width}
                dot={false}
                activeDot={false}
                isAnimationActive={false}
              />
            </LineChart>
          </div>
        );
      })}
    </div>
  );
};

export default App;
